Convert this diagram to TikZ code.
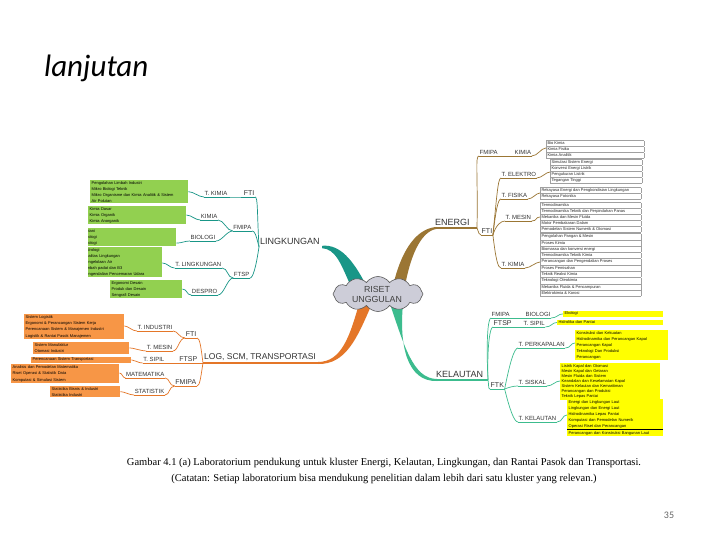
\documentclass[tikz,border=0pt]{standalone}
\usepackage{fontspec}
\setmainfont{Liberation Serif}
\setsansfont{Liberation Sans}
\newfontfamily\calib{Carlito}
\usepackage{colortbl}
\usetikzlibrary{shapes.symbols,calc}
\definecolor{cEn}{RGB}{155,118,52}
\definecolor{cLi}{RGB}{25,150,135}
\definecolor{cLo}{RGB}{228,118,40}
\definecolor{cKe}{RGB}{60,188,142}
\definecolor{gBox}{RGB}{146,208,80}
\definecolor{oBox}{RGB}{247,150,70}
\definecolor{yBox}{RGB}{255,255,0}
\definecolor{cloudF}{RGB}{205,205,216}
\definecolor{tblR}{RGB}{160,160,160}
\arrayrulecolor{tblR}
\setlength\tabcolsep{1pt}
\tikzset{
  lbl/.style={font=\sffamily\fontsize{6}{7}\selectfont, inner xsep=0.5pt, inner ysep=1.5pt, text=black!80},
  lblb/.style={lbl, font=\sffamily\fontsize{7}{8}\selectfont},
  topic/.style={font=\sffamily\fontsize{9}{10}\selectfont, inner xsep=1pt, inner ysep=2pt, text=black!80},
  conn/.style={line width=0.7pt},
  uline/.style={line width=0.9pt},
  tline/.style={line width=2pt},
  bx/.style={anchor=north west, inner xsep=1.5pt, inner ysep=1pt, align=left, font=\sffamily\fontsize{4}{6}\selectfont, text=black},
  tbx/.style={anchor=north west, inner sep=0pt, font=\sffamily\fontsize{4}{5.6}\selectfont, text=black!85},
}
\begin{document}
\begin{tikzpicture}[x=1pt,y=-1pt]
\useasboundingbox (0,0) rectangle (720,540);
\fill[white] (0,0) rectangle (720,540);

% title and page number
\node[font=\calib\itshape\fontsize{31}{33}\selectfont, anchor=base west, inner sep=0] (title) at (44,77) {lanjutan};
\node[font=\calib\fontsize{10}{12}\selectfont, text=black!60, anchor=base, inner sep=0] (pnum) at (669,518) {35};

% caption
\node[font=\rmfamily\fontsize{10.5}{12}\selectfont, anchor=base, inner sep=0] (cap1) at (384,465) {Gambar 4.1 (a) Laboratorium pendukung untuk kluster Energi, Kelautan, Lingkungan, dan Rantai Pasok dan Transportasi.};
\node[font=\rmfamily\fontsize{10.5}{12}\selectfont, anchor=base, inner sep=0] (cap2) at (384,481) {(Catatan: Setiap laboratorium bisa mendukung penelitian dalam lebih dari satu kluster yang relevan.)};

% ---------- trunks ----------
\fill[cEn] (393,286) .. controls (400,255) and (414,229) .. (436,227) -- (436,229) .. controls (420,232) and (410,258) .. (405,286) -- cycle;
\fill[cLi] (352,289) .. controls (341,264) and (336,249) .. (322,248.2) -- (322,245.8) .. controls (340,244) and (353,260) .. (366,285) -- cycle;
\fill[cLo] (359,304) .. controls (350,335) and (342,362) .. (318,362) -- (318,364) .. controls (346,364.5) and (357,338) .. (371,306) -- cycle;
\fill[cKe] (390,304) .. controls (404,345) and (413,379) .. (437,379) -- (437,381) .. controls (407,382) and (399,345) .. (403,304) -- cycle;

% ---------- cloud ----------
\node[cloud, cloud puffs=12, cloud puff arc=110, aspect=2.7, minimum width=90pt, minimum height=35pt, inner sep=0pt, fill=cloudF, draw=black!65, line width=0.6pt] (cloud) at (378,294) {};
\node[font=\sffamily\fontsize{8.8}{10}\selectfont, align=center, text=black!75, inner sep=0] (riset) at (377,294) {RISET\\UNGGULAN};

% ---------- ENERGI ----------
\node[topic, anchor=south west] (energi) at (434,228) {ENERGI};
\coordinate (jE) at (477,228);
\node[lbl, anchor=south west] (fmipaE) at (479,156) {FMIPA};
\node[lbl, anchor=south west] (kimiaE) at (514,156) {KIMIA};
\node[lblb, anchor=south west] (ftiE) at (481,235) {FTI};
\node[lbl, anchor=south west] (telektro) at (501,178) {T. ELEKTRO};
\node[lbl, anchor=south west] (tfisika) at (501,199) {T. FISIKA};
\node[lbl, anchor=south west] (tmesin) at (505,221) {T. MESIN};
\node[lbl, anchor=south west] (tkimiaE) at (501,268) {T. KIMIA};

\node[tbx] (bKI) at (546,140) {\begin{tabular}{|p{95pt}|}\hline Bio Kimia\\\hline Kimia Fisika\\\hline Kimia Analitik\\\hline\end{tabular}};
\node[tbx] (bEL) at (550,159) {\begin{tabular}{|p{89pt}|}\hline Simulasi Sistem Energi\\\hline Konversi Energi Listrik\\\hline Pengukuran Listrik\\\hline Tegangan Tinggi\\\hline\end{tabular}};
\node[tbx] (bFI) at (540,187) {\begin{tabular}{|p{98pt}|}\hline Rekayasa Energi dan Pengkondisian Lingkungan\\\hline Rekayasa Fotonika\\\hline\end{tabular}};
\node[tbx] (bME) at (540,202) {\begin{tabular}{|p{98pt}|}\hline Termodinamika\\\hline Termodinamika Teknik dan Perpindahan Panas\\\hline Mekanika dan Mesin Fluida\\\hline Motor Pembakaran Dalam\\\hline Pemodelan Sistem Numerik \& Otomasi\\\hline\end{tabular}};
\node[tbx, font=\sffamily\fontsize{4}{5.9}\selectfont] (bKM) at (540,233) {\begin{tabular}{|p{98pt}|}\hline Pengolahan Pangan \& Mesin\\\hline Proses Kimia\\\hline Biomassa dan konversi energi\\\hline Termodinamika Teknik Kimia\\\hline Perancangan dan Pengendalian Proses\\\hline Proses Pemisahan\\\hline Teknik Reaksi Kimia\\\hline Teknologi Oleokimia\\\hline Mekanika Fluida \& Pencampuran\\\hline Elektrokimia \& Korosi\\\hline\end{tabular}};

\draw[cEn,tline] (energi.south west) -- (jE);
\foreach \n in {fmipaE,kimiaE,ftiE,telektro,tfisika,tmesin,tkimiaE} \draw[cEn,uline] (\n.south west) -- (\n.south east);
\draw[cEn,conn] (jE) .. controls +(1,-55) and +(-4,0) .. (fmipaE.south west);
\draw[cEn,conn] (jE) .. controls +(2,5) and +(-2,0) .. (ftiE.south west);
\draw[cEn,conn] (fmipaE.south east) -- (kimiaE.south west);
\draw[cEn,conn] (ftiE.south east) .. controls +(4,-40) and +(-3,0) .. (telektro.south west);
\draw[cEn,conn] (ftiE.south east) .. controls +(3,-25) and +(-3,0) .. (tfisika.south west);
\draw[cEn,conn] (ftiE.south east) .. controls +(3,-10) and +(-4,0) .. (tmesin.south west);
\draw[cEn,conn] (ftiE.south east) .. controls +(3,25) and +(-3,0) .. (tkimiaE.south west);
\draw[cEn,conn] (kimiaE.south east) .. controls +(6,0) and +(-5,0) .. ($(bKI.north west)+(0,8)$);
\draw[cEn,conn] (telektro.south east) .. controls +(5,0) and +(-4,0) .. ($(bEL.north west)+(0,13)$);
\draw[cEn,conn] (tfisika.south east) .. controls +(5,0) and +(-4,0) .. ($(bFI.north west)+(0,6)$);
\draw[cEn,conn] (tmesin.south east) .. controls +(6,0) and +(-5,0) .. ($(bME.north west)+(0,15)$);
\draw[cEn,conn] (tkimiaE.south east) .. controls +(5,0) and +(-4,0) .. ($(bKM.north west)+(0,29)$);

% ---------- LINGKUNGAN ----------
\node[topic, anchor=south west] (ling) at (259,247) {LINGKUNGAN};
\coordinate (jL) at (259,247);
\node[lblb, anchor=south east] (ftiL) at (255,197) {FTI};
\node[lbl, anchor=south east] (tkimiaL) at (228,197) {T. KIMIA};
\node[lbl, anchor=south east] (fmipaL) at (252,231) {FMIPA};
\node[lbl, anchor=south east] (kimiaL) at (218,220) {KIMIA};
\node[lbl, anchor=south east] (biologiL) at (216,241) {BIOLOGI};
\node[lbl, anchor=south east] (ftspL) at (250,278) {FTSP};
\node[lbl, anchor=south east] (tlingk) at (222,268) {T. LINGKUNGAN};
\node[lbl, anchor=south east] (despro) at (218,295) {DESPRO};

\begin{scope}
\clip (88,0) rectangle (720,540);
\node[bx, fill=gBox, text width=95pt] (g1) at (90,180) {Pengolahan Limbah Industri\\Mikro Biologi Teknik\\Mikro Organisme dan Kimia Analitik \& Sistem\\Air Polutan};
\node[bx, fill=gBox, text width=95pt] (g2) at (88,206) {Kimia Dasar\\Kimia Organik\\Kimia Anorganik};
\node[bx, fill=gBox, text width=91pt] (g3) at (82,228) {Botani\\Zoologi\\Ekologi};
\node[bx, fill=gBox, text width=77pt] (g4) at (82,247) {Hidrologi\\Kualitas Lingkungan\\Pengelolaan Air\\Limbah padat dan B3\\Pengendalian Pencemaran Udara};
\node[bx, fill=gBox, text width=69pt] (g5) at (110,280) {Ergonomi Desain\\Produk dan Desain\\Sengrafi Desain};
\end{scope}

\foreach \n in {ftiL,tkimiaL,fmipaL,kimiaL,biologiL,ftspL,tlingk,despro} \draw[cLi,uline] (\n.south west) -- (\n.south east);
\draw[cLi,conn] (jL) .. controls +(-2,-35) and +(3,0) .. (ftiL.south east);
\draw[cLi,conn] (jL) .. controls +(-3,-12) and +(3,0) .. (fmipaL.south east);
\draw[cLi,conn] (jL) .. controls +(-3,20) and +(3,0) .. (ftspL.south east);
\draw[cLi,conn] (ftiL.south west) .. controls +(-5,0) and +(5,0) .. (tkimiaL.south east);
\draw[cLi,conn] (fmipaL.south west) .. controls +(-6,0) and +(6,0) .. (kimiaL.south east);
\draw[cLi,conn] (fmipaL.south west) .. controls +(-6,0) and +(6,0) .. (biologiL.south east);
\draw[cLi,conn] (ftspL.south west) .. controls +(-6,0) and +(6,0) .. (tlingk.south east);
\draw[cLi,conn] (ftspL.south west) .. controls +(-6,0) and +(6,0) .. (despro.south east);
\draw[cLi,conn] (tkimiaL.south west) .. controls +(-5,0) and +(5,0) .. (g1.east);
\draw[cLi,conn] (kimiaL.south west) .. controls +(-5,0) and +(5,0) .. (g2.east);
\draw[cLi,conn] (biologiL.south west) .. controls +(-5,0) and +(5,0) .. ($(g3.south east)+(0,-3)$);
\draw[cLi,conn] (tlingk.south west) .. controls +(-5,0) and +(5,0) .. ($(g4.north east)+(0,16)$);
\draw[cLi,conn] (despro.south west) .. controls +(-5,0) and +(5,0) .. (g5.east);

% ---------- LOG, SCM, TRANSPORTASI ----------
\node[topic, anchor=south west, font=\sffamily\fontsize{8.5}{10}\selectfont] (logt) at (203,363) {LOG, SCM, TRANSPORTASI};
\coordinate (jG) at (203,363);
\node[lblb, anchor=south east] (ftiG) at (197,338) {FTI};
\node[lbl, anchor=south east] (tindustri) at (173,331) {T. INDUSTRI};
\node[lbl, anchor=south east] (tmesinG) at (173,351) {T. MESIN};
\node[lblb, anchor=south east] (ftspG) at (198,363) {FTSP};
\node[lbl, anchor=south east] (tsipilG) at (165,363) {T. SIPIL};
\node[lblb, anchor=south east] (fmipaG) at (197,386) {FMIPA};
\node[lbl, anchor=south east] (matematika) at (165,378) {MATEMATIKA};
\node[lbl, anchor=south east] (statistik) at (165,395) {STATISTIK};

\node[bx, fill=oBox, text width=97pt, font=\sffamily\fontsize{4}{6.4}\selectfont] (o1) at (24,314) {Sistem Logistik\\Ergonomi \& Perancangan Sistem Kerja\\Perencanaan Sistem \& Manajemen Industri\\Logistik \& Rantai Pasok Manajemen};
\node[bx, fill=oBox, text width=93pt, font=\sffamily\fontsize{4}{6.4}\selectfont] (o2) at (33,342) {Sistem Manufaktur\\Otomasi Industri};
\node[bx, fill=oBox, text width=97pt, inner ysep=0.8pt, font=\sffamily\fontsize{4}{5}\selectfont] (o3) at (31,357) {Perencanaan Sistem Transportasi};
\node[bx, fill=oBox, text width=105pt, font=\sffamily\fontsize{4}{6.5}\selectfont] (o4) at (11,364) {Analisis dan Pemodelan Matematika\\Riset Operasi \& Statistik Data\\Komputasi \& Simulasi Sistem};
\node[bx, fill=oBox, text width=67pt, font=\sffamily\fontsize{4}{6}\selectfont] (o5) at (50,386) {Statistika Bisnis \& Industri\\Statistika Industri};

\foreach \n in {ftiG,tindustri,tmesinG,ftspG,tsipilG,fmipaG,matematika,statistik} \draw[cLo,uline] (\n.south west) -- (\n.south east);
\draw[cLo,tline] (logt.south west) -- (322,363);
\draw[cLo,conn] (jG) .. controls +(-2,-15) and +(3,0) .. (ftiG.south east);
\draw[cLo,conn] (jG) -- (ftspG.south east);
\draw[cLo,conn] (jG) .. controls +(-2,12) and +(3,0) .. (fmipaG.south east);
\draw[cLo,conn] (ftiG.south west) .. controls +(-6,0) and +(5,0) .. (tindustri.south east);
\draw[cLo,conn] (ftiG.south west) .. controls +(-6,0) and +(5,0) .. (tmesinG.south east);
\draw[cLo,conn] (ftspG.south west) -- (tsipilG.south east);
\draw[cLo,conn] (fmipaG.south west) .. controls +(-6,0) and +(5,0) .. (matematika.south east);
\draw[cLo,conn] (fmipaG.south west) .. controls +(-6,0) and +(5,0) .. (statistik.south east);
\draw[cLo,conn] (tindustri.south west) .. controls +(-5,0) and +(4,0) .. ($(o1.north east)+(0,12)$);
\draw[cLo,conn] (tmesinG.south west) .. controls +(-5,0) and +(4,0) .. (o2.east);
\draw[cLo,conn] (tsipilG.south west) .. controls +(-5,0) and +(4,0) .. (o3.east);
\draw[cLo,conn] (matematika.south west) .. controls +(-3,0) and +(3,0) .. ($(o4.north east)+(0,9)$);
\draw[cLo,conn] (statistik.south west) .. controls +(-5,0) and +(4,0) .. (o5.east);

% ---------- KELAUTAN ----------
\node[topic, anchor=south west] (kel) at (435,380) {KELAUTAN};
\coordinate (jK) at (488,380);
\node[lbl, anchor=south west] (fmipaK) at (491,318) {FMIPA};
\node[lbl, anchor=south west] (biologiK) at (525,318) {BIOLOGI};
\node[lblb, anchor=south west] (ftspK) at (493,327) {FTSP};
\node[lbl, anchor=south west] (tsipilK) at (523,327) {T. SIPIL};
\node[lblb, anchor=south west] (ftk) at (490,389) {FTK};
\node[lbl, anchor=south west] (tperkapalan) at (518,348) {T. PERKAPALAN};
\node[lbl, anchor=south west] (tsiskal) at (518,386) {T. SISKAL};
\node[lbl, anchor=south west] (tkelautan) at (518,422) {T. KELAUTAN};

\node[bx, fill=yBox, text width=97pt, inner ysep=0.8pt, font=\sffamily\fontsize{4}{5}\selectfont] (y1) at (563,311) {Ekologi};
\node[bx, fill=yBox, text width=103pt, inner ysep=0.8pt, font=\sffamily\fontsize{4}{5}\selectfont] (y2) at (557,320) {Hidrolika dan Pantai};
\node[bx, fill=yBox, text width=90pt, font=\sffamily\fontsize{4}{6}\selectfont] (y3) at (575,330) {Konstruksi dan Kekuatan\\Hidrodinamika dan Perancangan Kapal\\Perancangan Kapal\\Teknologi Dan Produksi\\Perancangan};
\node[bx, fill=yBox, text width=97pt, font=\sffamily\fontsize{4}{5.1}\selectfont] (y4) at (560,363) {Listrik Kapal dan Otomasi\\Mesin Kapal dan Getaran\\Mesin Fluida dan Sistem\\Keandalan dan Keselamatan Kapal\\Sistem Kelautan dan Kemaritiman\\Perancangan dan Produksi\\Teknik Lepas Pantai};
\node[bx, fill=yBox, text width=93pt, font=\sffamily\fontsize{4}{6.2}\selectfont] (y5) at (567,399) {Energi dan Lingkungan Laut\\Lingkungan dan Energi Laut\\Hidrodinamika Lepas Pantai\\Komputasi dan Pemodelan Numerik\\Operasi Riset dan Perancangan\\Perancangan dan Konstruksi Bangunan Laut};
\draw[black, line width=0.8pt] ($(y5.south west)+(0,-7)$) -- ($(y5.south east)+(0,-7)$);

\draw[cKe,tline] (kel.south west) -- (jK);
\foreach \n in {fmipaK,biologiK,ftspK,tsipilK,ftk,tperkapalan,tsiskal,tkelautan} \draw[cKe,uline] (\n.south west) -- (\n.south east);
\draw[cKe,conn] (jK) .. controls +(-2,-40) and +(-3,0) .. (fmipaK.south west);
\draw[cKe,conn] (jK) .. controls +(-1,-35) and +(-3,0) .. (ftspK.south west);
\draw[cKe,conn] (jK) .. controls +(1,5) and +(-2,0) .. (ftk.south west);
\draw[cKe,conn] (fmipaK.south east) -- (biologiK.south west);
\draw[cKe,conn] (ftspK.south east) -- (tsipilK.south west);
\draw[cKe,conn] (ftk.south east) .. controls +(5,-25) and +(-4,0) .. (tperkapalan.south west);
\draw[cKe,conn] (ftk.south east) .. controls +(5,-2) and +(-4,0) .. (tsiskal.south west);
\draw[cKe,conn] (ftk.south east) .. controls +(5,20) and +(-4,0) .. (tkelautan.south west);
\draw[cKe,conn] (biologiK.south east) .. controls +(6,0) and +(-5,0) .. (y1.west);
\draw[cKe,conn] (tsipilK.south east) .. controls +(6,0) and +(-5,0) .. (y2.west);
\draw[cKe,conn] (tperkapalan.south east) .. controls +(6,0) and +(-5,0) .. ($(y3.north west)+(0,13)$);
\draw[cKe,conn] (tsiskal.south east) .. controls +(6,0) and +(-5,0) .. ($(y4.north west)+(0,18)$);
\draw[cKe,conn] (tkelautan.south east) .. controls +(6,0) and +(-5,0) .. ($(y5.north west)+(0,16)$);
\end{tikzpicture}
\end{document}
